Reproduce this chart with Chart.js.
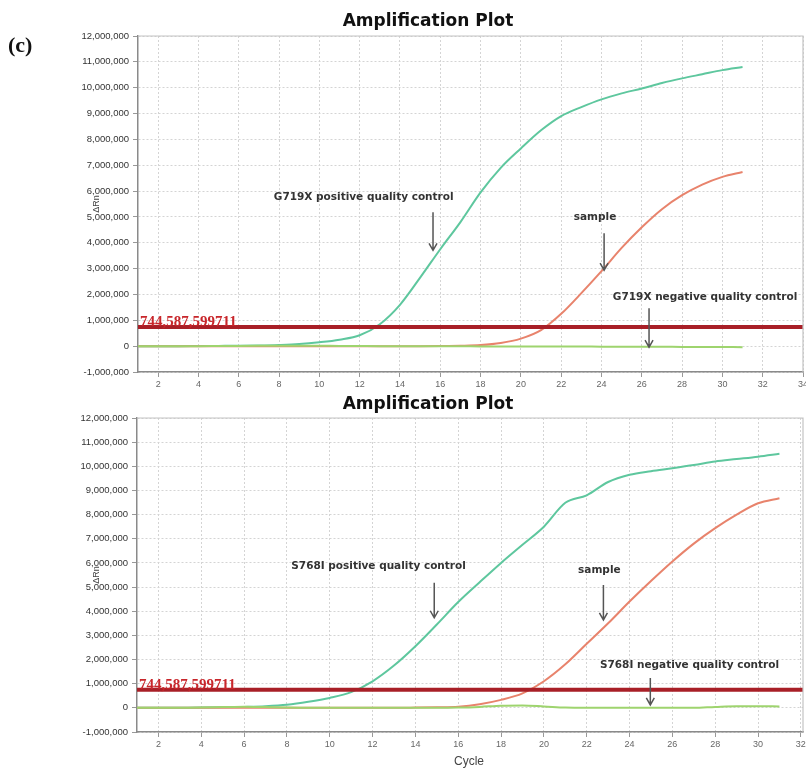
<!DOCTYPE html>
<html>
<head>
<meta charset="utf-8">
<script src="https://cdn.jsdelivr.net/npm/chart.js@4.4.1/dist/chart.umd.min.js"></script>
<style>
  body { margin: 0; background: #fff; }
  #wrap { position: relative; width: 806px; height: 770px; }
  canvas { position: absolute; left: 0; }
</style>
</head>
<body>
<div id="wrap">
  <canvas id="chartTop" width="806" height="395" style="top:0"></canvas>
  <canvas id="chartBottom" width="806" height="375" style="top:395px"></canvas>
</div>
<script>
// cycle numbers and the delta Rn
const cycles = [1, 2, 3, 4, 5, 6, 7, 8, 9, 10, 11, 12, 13, 14, 15, 16, 17, 18, 19, 20, 21, 22, 23, 24, 25, 26, 27, 28, 29, 30, 31];

const g719Positive = [0, 0, 0, 5e3, 10e3, 15e3, 25e3, 45e3, 80e3, 150e3, 250e3, 420e3, 850e3, 1.6e6, 2.65e6, 3.75e6, 4.8e6, 5.95e6, 6.9e6, 7.65e6, 8.35e6, 8.9e6, 9.25e6, 9.55e6, 9.78e6, 9.97e6, 10.18e6, 10.36e6, 10.52e6, 10.68e6, 10.8e6];
const g719Sample = [0, 0, 0, 0, 0, 0, 0, 0, 0, 0, 0, 0, 0, 0, 0, 5e3, 15e3, 40e3, 120e3, 290e3, 620e3, 1.25e6, 2.05e6, 2.9e6, 3.8e6, 4.6e6, 5.3e6, 5.84e6, 6.25e6, 6.55e6, 6.74e6];
const g719Negative = [0, 0, 0, 0, 5e3, 10e3, 15e3, 20e3, 20e3, 15e3, 10e3, 5e3, 0, 0, 0, -5e3, -5e3, -10e3, -10e3, -10e3, -15e3, -15e3, -15e3, -20e3, -20e3, -25e3, -25e3, -30e3, -30e3, -35e3, -40e3];

const s768Positive = [0, 0, 5e3, 10e3, 20e3, 40e3, 70e3, 130e3, 250e3, 410e3, 650e3, 1.1e6, 1.75e6, 2.55e6, 3.45e6, 4.38e6, 5.2e6, 6.0e6, 6.75e6, 7.5e6, 8.49e6, 8.8e6, 9.35e6, 9.65e6, 9.8e6, 9.92e6, 10.05e6, 10.2e6, 10.3e6, 10.4e6, 10.52e6];
const s768Sample = [0, 0, 0, 0, 0, 0, 0, 0, 0, 0, 0, 0, 0, 10e3, 25e3, 50e3, 150e3, 330e3, 600e3, 1.1e6, 1.8e6, 2.65e6, 3.5e6, 4.4e6, 5.25e6, 6.06e6, 6.8e6, 7.44e6, 8.0e6, 8.47e6, 8.68e6];
const s768Negative = [0, 0, 0, 10e3, 30e3, 50e3, 30e3, 10e3, 0, 0, 0, 0, 0, 0, 0, 10e3, 40e3, 90e3, 100e3, 60e3, 10e3, 0, 0, 0, 0, 0, 0, 40e3, 70e3, 70e3, 60e3];

const threshold = 744587.599711;
const thresholdText = '744,587,599711';

const yTicks = [-1e6, 0, 1e6, 2e6, 3e6, 4e6, 5e6, 6e6, 7e6, 8e6, 9e6, 10e6, 11e6, 12e6];
const topXTicks = [2, 4, 6, 8, 10, 12, 14, 16, 18, 20, 22, 24, 26, 28, 30, 32, 34];
const bottomXTicks = [2, 4, 6, 8, 10, 12, 14, 16, 18, 20, 22, 24, 26, 28, 30, 32];

// labels with arrows, in data units: text centre, arrow x, arrow from/to
const topNotes = [
  { text: 'G719X positive quality control', tx: 12.2, ty: 5.76e6, ax: 15.64, ay1: 5.18e6, ay2: 3.71e6 },
  { text: 'sample', tx: 23.68, ty: 4.99e6, ax: 24.13, ay1: 4.37e6, ay2: 2.94e6 },
  { text: 'G719X negative quality control', tx: 29.14, ty: 1.9e6, ax: 26.36, ay1: 1.47e6, ay2: -0.04e6 }
];
const bottomNotes = [
  { text: 'S768I positive quality control', tx: 12.28, ty: 5.88e6, ax: 14.88, ay1: 5.18e6, ay2: 3.73e6 },
  { text: 'sample', tx: 22.59, ty: 5.71e6, ax: 22.78, ay1: 5.09e6, ay2: 3.64e6 },
  { text: 'S768I negative quality control', tx: 26.8, ty: 1.78e6, ax: 24.97, ay1: 1.24e6, ay2: 0.12e6 }
];

const colPositive = '#5ec79e';
const colSample = '#e8836c';
const colNegative = '#9ed46e';
const colThreshold = '#a81f27';

function series(values) {
  return cycles.map((c, i) => ({ x: c, y: values[i] }));
}

function curve(values, color) {
  return {
    data: series(values),
    borderColor: color,
    borderWidth: 2,
    pointRadius: 0,
    fill: false,
    cubicInterpolationMode: 'monotone',
    order: 1
  };
}

const extras = {
  id: 'extras',
  beforeDraw(chart) {
    const ctx = chart.ctx;
    ctx.save();
    ctx.fillStyle = '#fff';
    ctx.fillRect(0, 0, chart.width, chart.height);
    ctx.restore();
  },
  afterDraw(chart) {
    const o = chart.options.plugins.extras;
    const ctx = chart.ctx;
    const a = chart.chartArea;
    const xs = chart.scales.x, ys = chart.scales.y;
    ctx.save();

    // top and right frame
    ctx.strokeStyle = '#c4c4c4';
    ctx.lineWidth = 1.2;
    ctx.beginPath();
    ctx.moveTo(a.left, a.top);
    ctx.lineTo(a.right, a.top);
    ctx.lineTo(a.right, a.bottom);
    ctx.stroke();

    // threshold value
    const yt = ys.getPixelForValue(threshold);
    ctx.fillStyle = '#c8262b';
    ctx.font = 'bold 15px "Liberation Serif"';
    ctx.textAlign = 'left';
    ctx.textBaseline = 'alphabetic';
    ctx.fillText(thresholdText, a.left + 2, yt - 1);

    // title
    ctx.fillStyle = '#111';
    ctx.font = 'bold 17px "DejaVu Sans"';
    ctx.textAlign = 'center';
    ctx.textBaseline = 'middle';
    ctx.fillText('Amplification Plot', o.titleX, o.titleY);

    // y axis name, squeezed between the tick labels
    ctx.save();
    ctx.translate(97, (a.top + a.bottom) / 2);
    ctx.rotate(-Math.PI / 2);
    ctx.fillStyle = '#444';
    ctx.font = '9px "Liberation Sans"';
    ctx.fillText('ΔRn', 0, 0);
    ctx.restore();

    // notes and arrows
    o.notes.forEach(n => {
      ctx.fillStyle = '#333';
      ctx.font = 'bold 10.5px "DejaVu Sans"';
      ctx.textAlign = 'center';
      ctx.textBaseline = 'middle';
      ctx.fillText(n.text, xs.getPixelForValue(n.tx), ys.getPixelForValue(n.ty));
      const ax = xs.getPixelForValue(n.ax);
      const y1 = ys.getPixelForValue(n.ay1), y2 = ys.getPixelForValue(n.ay2);
      ctx.strokeStyle = '#555';
      ctx.lineWidth = 1.5;
      ctx.beginPath();
      ctx.moveTo(ax, y1);
      ctx.lineTo(ax, y2);
      ctx.moveTo(ax - 4, y2 - 7);
      ctx.lineTo(ax, y2);
      ctx.lineTo(ax + 4, y2 - 7);
      ctx.stroke();
    });

    if (o.panelLetter) {
      ctx.fillStyle = '#111';
      ctx.font = 'bold 22px "Liberation Serif"';
      ctx.textAlign = 'left';
      ctx.textBaseline = 'middle';
      ctx.fillText('(c)', 8, 46);
    }
    if (o.cycleLabel) {
      ctx.fillStyle = '#444';
      ctx.font = '12px "Liberation Sans"';
      ctx.textAlign = 'center';
      ctx.textBaseline = 'middle';
      ctx.fillText('Cycle', 469, a.bottom + 30);
    }
    ctx.restore();
  }
};

function makeChart(id, pos, sample, neg, xMax, xTicks, notes, lay) {
  return new Chart(document.getElementById(id), {
    type: 'line',
    data: {
      datasets: [
        { data: [{ x: 1, y: threshold }, { x: xMax, y: threshold }], borderColor: colThreshold, borderWidth: 4, pointRadius: 0, order: 0 },
        curve(neg, colNegative),
        curve(sample, colSample),
        curve(pos, colPositive)
      ]
    },
    options: {
      responsive: false,
      animation: false,
      layout: { autoPadding: false, padding: { top: lay.top, right: 3, left: 0, bottom: 0 } },
      plugins: {
        legend: { display: false },
        tooltip: { enabled: false },
        extras: { titleX: 428, titleY: lay.titleY, notes: notes, panelLetter: lay.letter, cycleLabel: lay.cycle }
      },
      scales: {
        x: {
          type: 'linear',
          min: 1,
          max: xMax,
          afterBuildTicks: s => { s.ticks = xTicks.map(v => ({ value: v })); },
          afterFit: s => { s.height = lay.xHeight; s.paddingLeft = 0; s.paddingRight = 0; },
          ticks: { color: '#666', font: { family: 'Liberation Sans', size: 9 }, padding: 2, maxRotation: 0 },
          grid: { color: '#d4d4d4', tickColor: '#999', tickLength: 5 },
          border: { color: '#8a8a8a', width: 1.5, dash: [2, 2] }
        },
        y: {
          min: -1e6,
          max: 12e6,
          afterBuildTicks: s => { s.ticks = yTicks.map(v => ({ value: v })); },
          afterFit: s => { s.width = lay.yWidth; s.paddingTop = 0; s.paddingBottom = 0; },
          ticks: {
            color: '#333',
            font: { family: 'Liberation Sans', size: 9.5 },
            padding: 4,
            callback: v => v.toLocaleString('en-US')
          },
          grid: { color: '#d4d4d4', tickColor: '#999', tickLength: 5 },
          border: { color: '#8a8a8a', width: 1.5, dash: [2, 2] }
        }
      }
    },
    plugins: [extras]
  });
}

makeChart('chartTop', g719Positive, g719Sample, g719Negative, 34, topXTicks, topNotes,
  { top: 36, xHeight: 23, yWidth: 138, titleY: 22, letter: true, cycle: false });
makeChart('chartBottom', s768Positive, s768Sample, s768Negative, 32.1, bottomXTicks, bottomNotes,
  { top: 23, xHeight: 38, yWidth: 137, titleY: 10, letter: false, cycle: true });
</script>
</body>
</html>
